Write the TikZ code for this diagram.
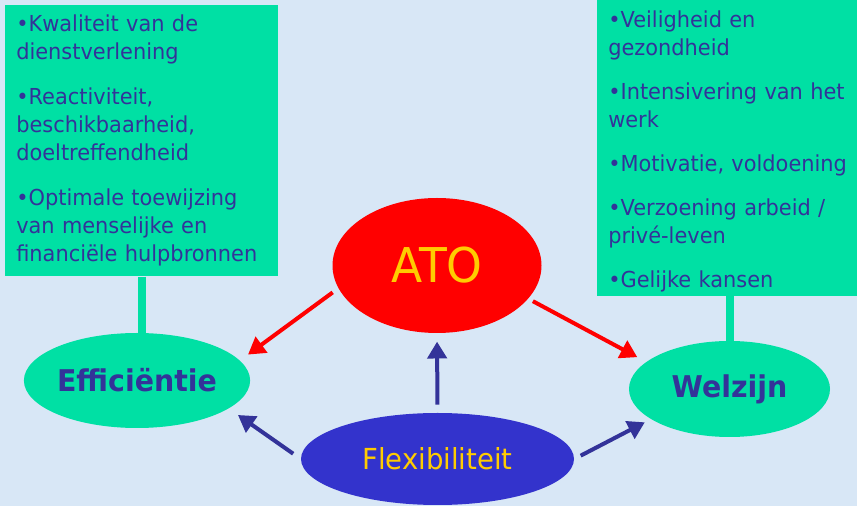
\documentclass[tikz,border=0pt]{standalone}
\usepackage{fontspec}
\setmainfont{DejaVu Sans}[FakeStretch=0.95]
\usepackage{tikz}
\usetikzlibrary{positioning, arrows.meta, shapes}
\definecolor{groen}{RGB}{0, 224, 164}
\definecolor{paars}{RGB}{51, 51, 153}
\definecolor{rood}{RGB}{255, 0, 0}
\definecolor{geel}{RGB}{255, 204, 0}
\definecolor{blauw}{RGB}{51, 51, 204}
\definecolor{lucht}{RGB}{216, 231, 246}
\tikzset{
    lijst/.style={rectangle, fill=groen, text=paars, align=left, text width=6.275cm, inner xsep=0.275cm, font=\fontsize{15.65}{19.9}\selectfont},
    doel/.style={ellipse, fill=groen, text=paars, inner sep=0pt, minimum width=5cm, minimum height=2.4cm, font=\fontsize{21.3}{24}\selectfont\bfseries},
    balk/.style={-, groen, line width=0.2cm},
    pijl/.style={-{Triangle[length=0.42cm, width=0.48cm]}, line width=0.1cm},
}

\begin{document}
\begin{tikzpicture}
        \useasboundingbox (0,0) rectangle (21.425,12.65);
        \clip (0,0) rectangle (21.425,12.65);
        \fill[lucht] (0,0) rectangle (21.425,12.65);

        \node[lijst, inner ysep=0.2cm, minimum height=6.775cm, anchor=north west] (lEff) at (0.125,12.525) {•Kwaliteit van de\\ dienstverlening\\[12.1pt]
            •Reactiviteit,\\ beschikbaarheid,\\ doeltreffendheid\\[12.1pt]
            •Optimale toewijzing\\ van menselijke en\\ \mbox{financiële hulpbronnen}};
        \node[lijst, text width=6.5cm, inner ysep=0.1cm, anchor=south west] (lWel) at (14.925,5.25) {\rule{0pt}{2cm}•Veiligheid en\\ gezondheid\\[11.4pt]
            •Intensivering van het\\ werk\\[11.4pt]
            •Motivatie, voldoening\\[11.4pt]
            •Verzoening arbeid /\\ privé-leven\\[11.4pt]
            •Gelijke kansen};

        \node[doel, minimum height=2.375cm] (eff) at (3.425,3.1375) {Efficiëntie};
        \node[doel, minimum width=5.025cm] (wel) at (18.2375,2.925) {Welzijn};
        \node[ellipse, fill=rood, text=geel, minimum width=5.225cm, minimum height=3.375cm, font=\fontsize{34.1}{38}\selectfont] (ato) at (10.925,6.0125) {ATO};
        \node[ellipse, fill=blauw, text=geel, minimum width=6.825cm, minimum height=2.3cm, font=\fontsize{20.6}{24}\selectfont] (flex) at (10.9375,1.175) {Flexibiliteit};

        \draw[balk] (lEff.south) -- (lEff.south |- eff.north);
        \draw[balk] (wel.north) -- (wel.north |- lWel.south);

        \draw[pijl, rood, shorten <=0.175cm, shorten >=0.25cm] (ato.193) -- (eff.11);
        \draw[pijl, rood, shorten <=0.13cm, shorten >=0.25cm] (ato.340) -- (wel.162);
        \draw[pijl, paars, shorten <=0.2cm, shorten >=0.21cm] (flex.north) -- (ato.south);
        \draw[pijl, paars, shorten <=0.23cm, shorten >=0.28cm] (flex.180) -- (eff.343);
        \draw[pijl, paars, shorten <=0.18cm, shorten >=0.17cm] (flex.0) -- (wel.201);
    \end{tikzpicture}
\end{document}
